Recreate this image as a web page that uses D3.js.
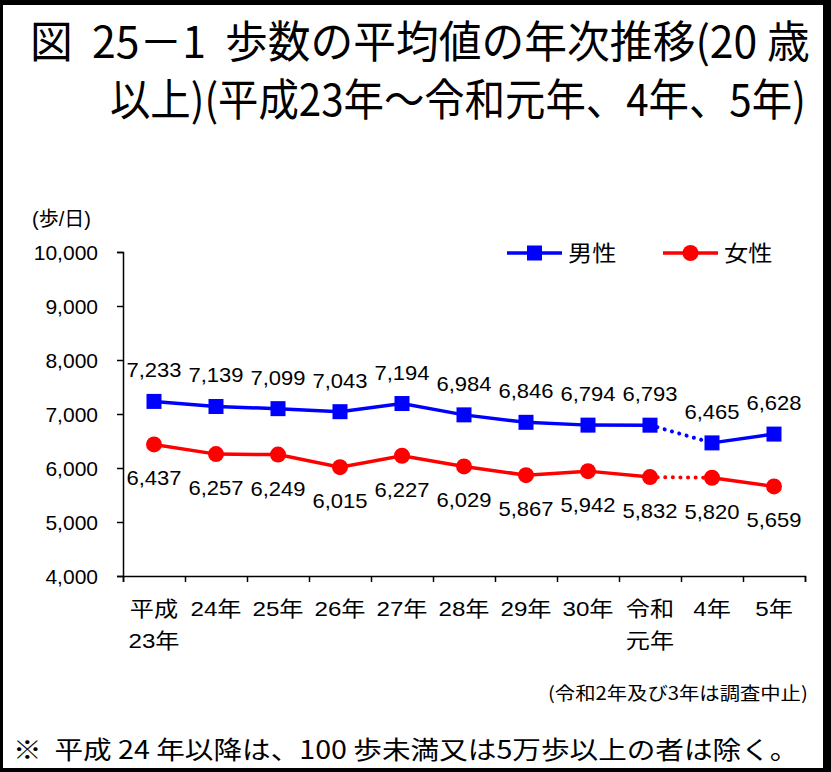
<!DOCTYPE html>
<html lang="ja">
<head>
  <meta charset="UTF-8">
  <title>歩数の平均値の年次推移</title>
  <script src="https://d3js.org/d3.v7.min.js"></script>
  <style>
    body {
      margin: 0;
      background-color: #000;
    }
    svg text {
      font-family: "Liberation Sans", "Noto Sans CJK JP", sans-serif;
      fill: #000;
    }
    .jp {
      font-family: "Noto Sans CJK JP", sans-serif !important;
    }
  </style>
</head>
<body>
  <div id="chart"></div>

  <script>
    // categories (two-line labels are split with "|")
    const categories = ["平成|23年", "24年", "25年", "26年", "27年", "28年", "29年", "30年", "令和|元年", "4年", "5年"];
    const maleSteps = [7233, 7139, 7099, 7043, 7194, 6984, 6846, 6794, 6793, 6465, 6628];
    const femaleSteps = [6437, 6257, 6249, 6015, 6227, 6029, 5867, 5942, 5832, 5820, 5659];
    const yTicks = [4000, 5000, 6000, 7000, 8000, 9000, 10000];
    // survey suspended between 令和元年 and 4年 -> dotted segment
    const gapAfter = 8;

    const width = 831, height = 772;
    const plot = { left: 123, right: 805, top: 252, bottom: 576 };

    const svg = d3.select("#chart")
      .append("svg")
      .attr("width", width)
      .attr("height", height);

    // frame
    svg.append("rect")
      .attr("width", width).attr("height", height).attr("fill", "#000");
    svg.append("rect")
      .attr("x", 3).attr("y", 5)
      .attr("width", 820).attr("height", 763)
      .attr("fill", "#fff");

    // condensed text: draw at natural size, then squeeze horizontally to fit a width
    function fitText(str, x0, y0, size, w) {
      const t = svg.append("text")
        .attr("class", "jp")
        .attr("font-size", size)
        .style("white-space", "pre")
        .text(str);
      const len = t.node().getComputedTextLength();
      t.attr("transform", `translate(${x0},${y0}) scale(${w / len},1)`);
      return t;
    }

    // title
    fitText("図  25－1  歩数の平均値の年次推移(20 歳", 30, 58, 44, 780);
    fitText("以上)(平成23年～令和元年、4年、5年)", 110, 116, 44, 696);

    const x = d3.scaleBand().domain(categories).range([plot.left, plot.right]);
    const y = d3.scaleLinear().domain([4000, 10000]).range([plot.bottom, plot.top]);
    const cx = d => x(d) + x.bandwidth() / 2;

    // y axis
    const yAxis = svg.append("g")
      .attr("transform", `translate(${plot.left},0)`)
      .call(d3.axisLeft(y).tickValues(yTicks).tickSize(6).tickPadding(19).tickFormat(d3.format(",")));
    yAxis.select(".domain").attr("stroke", "#000").attr("stroke-width", 1.5);
    yAxis.selectAll(".tick line").attr("stroke", "#000").attr("stroke-width", 1.5);
    yAxis.selectAll(".tick text")
      .attr("font-size", 21)
      .attr("font-family", "Liberation Sans, sans-serif")
      .attr("dy", "0.36em");

    svg.append("text")
      .attr("x", 32).attr("y", 226)
      .attr("font-size", 20)
      .text("(歩/日)");

    // x axis: ticks at band boundaries
    const xIdx = d3.scaleLinear().domain([0, categories.length]).range([plot.left, plot.right]);
    const xAxis = svg.append("g")
      .attr("transform", `translate(0,${plot.bottom})`)
      .call(d3.axisBottom(xIdx).tickValues(d3.range(categories.length + 1)).tickSize(6).tickFormat(""));
    xAxis.select(".domain").attr("stroke", "#000").attr("stroke-width", 1.5);
    xAxis.selectAll(".tick line").attr("stroke", "#000").attr("stroke-width", 1.5);

    // category labels
    categories.forEach(c => {
      c.split("|").forEach((line, i) => {
        svg.append("text")
          .attr("transform", `translate(${cx(c)},${616 + i * 32}) scale(1.15,1)`)
          .attr("text-anchor", "middle")
          .attr("font-size", 21)
          .text(line);
      });
    });

    // series
    const series = [
      { name: "男性", values: maleSteps, color: "#0000ff", marker: "square", labelDy: -24 },
      { name: "女性", values: femaleSteps, color: "#ff0000", marker: "circle", labelDy: 41 }
    ];

    const line = d3.line().x(d => cx(d.cat)).y(d => y(d.v));

    series.forEach(s => {
      const pts = s.values.map((v, i) => ({ cat: categories[i], v }));
      const g = svg.append("g");

      g.append("path")
        .datum(pts.slice(0, gapAfter + 1))
        .attr("d", line)
        .attr("fill", "none").attr("stroke", s.color).attr("stroke-width", 3.5);
      g.append("path")
        .datum(pts.slice(gapAfter, gapAfter + 2))
        .attr("d", line)
        .attr("fill", "none").attr("stroke", s.color).attr("stroke-width", 4)
        .attr("stroke-linecap", "round")
        .attr("stroke-dasharray", "0.1 7.5");
      g.append("path")
        .datum(pts.slice(gapAfter + 1))
        .attr("d", line)
        .attr("fill", "none").attr("stroke", s.color).attr("stroke-width", 3.5);

      if (s.marker === "square") {
        g.selectAll("rect.m").data(pts).enter().append("rect")
          .attr("x", d => cx(d.cat) - 7.5).attr("y", d => y(d.v) - 7.5)
          .attr("width", 15).attr("height", 15)
          .attr("fill", s.color);
      } else {
        g.selectAll("circle.m").data(pts).enter().append("circle")
          .attr("cx", d => cx(d.cat)).attr("cy", d => y(d.v))
          .attr("r", 8)
          .attr("fill", s.color);
      }

      g.selectAll("text.lbl").data(pts).enter().append("text")
        .attr("transform", d => `translate(${cx(d.cat)},${y(d.v) + s.labelDy}) scale(1.1,1)`)
        .attr("text-anchor", "middle")
        .attr("font-size", 20)
        .text(d => d3.format(",")(d.v));
    });

    // legend
    const legendItems = [
      { s: series[0], x0: 507 },
      { s: series[1], x0: 663 }
    ];
    legendItems.forEach(({ s, x0 }) => {
      const ly = 253;
      svg.append("line")
        .attr("x1", x0).attr("x2", x0 + 55).attr("y1", ly).attr("y2", ly)
        .attr("stroke", s.color).attr("stroke-width", 3.5);
      if (s.marker === "square") {
        svg.append("rect")
          .attr("x", x0 + 20).attr("y", ly - 7.5).attr("width", 15).attr("height", 15)
          .attr("fill", s.color);
      } else {
        svg.append("circle")
          .attr("cx", x0 + 27.5).attr("cy", ly).attr("r", 8).attr("fill", s.color);
      }
      svg.append("text")
        .attr("transform", `translate(${x0 + 61},${ly + 8}) scale(1.1,1)`)
        .attr("font-size", 22)
        .text(s.name);
    });

    // notes
    fitText("(令和2年及び3年は調査中止)", 548, 700, 18, 260);
    fitText("※  平成 24 年以降は、100 歩未満又は5万歩以上の者は除く。", 13, 759, 25, 786);
  </script>
</body>
</html>
